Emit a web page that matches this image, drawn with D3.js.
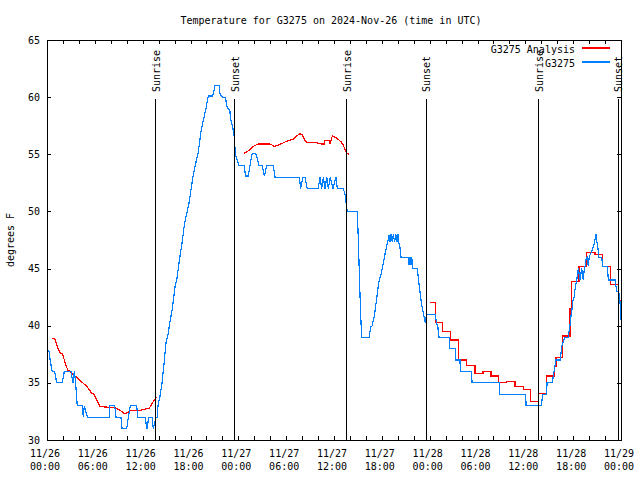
<!DOCTYPE html>
<html><head><meta charset="utf-8">
<script src="https://cdn.jsdelivr.net/npm/d3@7"></script>
<style>
html,body{margin:0;padding:0;background:#fff;}
svg text{font-family:"DejaVu Sans Mono",monospace;font-size:10px;fill:#000;}
</style></head>
<body><svg id="c" width="640" height="480"></svg>
<script>
// hours since 2024-11-26 00:00 UTC
const titleText = "Temperature for G3275 on 2024-Nov-26 (time in UTC)";
const yLabel = "degrees F";
const seriesNames = ["G3275 Analysis", "G3275"];
const xTickHours = [0,6,12,18,24,30,36,42,48,54,60,66,72];
const xTickDates = ["11/26","11/26","11/26","11/26","11/27","11/27","11/27","11/27","11/28","11/28","11/28","11/28","11/29"];
const xTickTimes = ["00:00","06:00","12:00","18:00","00:00","06:00","12:00","18:00","00:00","06:00","12:00","18:00","00:00"];
const yTicks = [30,35,40,45,50,55,60,65];
const sunHours = [13.58, 23.49, 37.54, 47.5, 61.64, 71.58];
const sunLabels = ["Sunrise","Sunset","Sunrise","Sunset","Sunrise","Sunset"];

// G3275 observations [hour, degF]
const obs = [
[0.0,38.0],[0.29,37.7],[0.41,36.9],[0.66,36.0],[0.92,36.0],[1.09,35.7],[1.17,35.0],[1.92,35.0],[2.17,36.0],[3.01,36.0],
[3.17,35.3],[3.26,35.0],[3.42,36.0],[3.60,35.0],[3.68,34.0],[3.80,33.0],[4.43,33.0],[4.55,32.0],[4.68,33.0],[5.06,32.0],
[7.81,32.0],[7.87,33.0],[8.49,33.0],[8.66,32.0],[9.28,32.0],[9.41,31.0],[10.0,31.0],[10.2,32.0],[10.45,33.0],[11.25,33.0],
[11.41,32.0],[12.29,32.0],[12.54,31.0],[12.76,32.0],[13.17,32.0],[13.33,31.0],[13.67,32.0],[13.84,32.0],[13.92,33.0],[14.17,33.8],
[14.43,35.0],[14.68,36.7],[14.93,38.5],[15.22,39.4],[15.39,40.2],[15.72,41.5],[16.06,43.4],[16.27,44.0],[16.56,45.5],[16.77,46.5],
[16.97,47.4],[17.22,48.8],[17.52,49.8],[17.81,50.7],[18.06,51.9],[18.35,53.2],[18.65,54.2],[18.98,55.2],[19.32,57.0],[19.61,58.0],
[19.91,58.9],[20.23,60.1],[20.79,60.1],[20.86,60.3],[21.07,61.0],[21.58,61.0],[21.70,60.3],[21.99,60.0],[22.37,60.0],[22.62,59.0],
[22.92,58.9],[23.04,58.1],[23.29,57.4],[23.50,56.5],[23.58,55.5],[23.71,54.8],[24.08,54.0],[24.71,54.0],[24.92,53.1],[25.25,53.1],
[25.55,54.4],[25.75,55.1],[26.18,55.1],[26.38,54.6],[26.59,54.0],[27.01,54.0],[27.26,53.1],[27.56,54.0],[28.39,54.0],[28.60,53.0],
[31.65,53.0],[31.82,52.0],[32.08,53.0],[32.36,53.0],[32.65,52.0],[34.03,52.0],[34.24,53.0],[34.46,52.0],[34.66,53.0],[34.87,52.0],
[35.09,53.0],[35.29,52.0],[35.54,53.0],[35.88,52.0],[36.25,53.0],[36.42,52.0],[37.17,52.0],[37.29,51.7],[37.47,51.2],[37.54,50.6],
[37.67,50.0],[38.92,50.0],[39.01,48.4],[39.14,45.5],[39.26,42.7],[39.39,40.2],[39.48,39.0],[40.43,39.0],[40.52,39.5],[40.64,39.9],
[40.80,40.0],[40.93,40.5],[41.06,40.8],[41.18,41.5],[41.36,42.4],[41.52,43.3],[41.68,44.0],[41.86,44.4],[42.06,45.0],[42.27,45.8],
[42.49,46.6],[42.69,47.2],[42.90,47.9],[43.03,47.3],[43.15,48.0],[43.31,47.3],[43.44,48.0],[43.61,47.3],[43.74,48.0],[43.90,47.3],
[44.03,48.0],[44.15,47.2],[44.28,46.8],[44.41,46.0],[45.32,46.0],[45.41,45.3],[45.53,46.0],[45.66,45.3],[45.75,46.0],[45.87,45.0],
[46.45,45.0],[46.58,44.2],[46.70,43.4],[46.83,42.7],[47.00,41.8],[47.20,41.1],[47.42,40.3],[47.48,40.8],[47.54,40.2],[47.63,41.0],
[48.71,41.0],[48.88,40.1],[49.01,40.1],[49.08,39.5],[49.17,39.0],[50.46,39.0],[50.49,38.0],[51.22,38.0],[51.25,37.0],[51.81,37.0],
[51.84,36.0],[53.27,36.0],[53.31,35.0],[56.74,35.0],[56.79,34.0],[60.05,34.0],[60.09,33.0],[61.97,33.0],[62.09,33.5],[62.18,34.0],
[62.68,34.0],[62.72,35.0],[63.38,35.0],[63.51,35.6],[63.60,36.0],[63.85,37.0],[64.35,37.0],[64.44,37.4],[64.56,38.2],[64.64,38.4],
[64.98,39.0],[65.36,39.0],[65.60,40.0],[65.69,40.7],[65.82,41.2],[65.95,42.1],[66.11,42.5],[66.27,43.4],[66.45,44.0],[66.65,45.0],
[66.86,44.0],[67.07,45.0],[67.27,44.0],[67.36,44.7],[67.49,45.2],[67.61,45.8],[67.78,46.0],[67.90,45.2],[68.03,46.1],[68.20,46.3],
[68.53,46.9],[68.74,47.5],[68.86,48.0],[68.95,47.5],[69.08,46.9],[69.24,46.0],[69.58,46.0],[69.71,45.2],[70.28,45.2],[70.41,44.0],
[71.25,44.0],[71.34,43.6],[71.46,43.0],[71.71,43.0],[71.87,42.1],[72.0,40.5]
];

// G3275 Analysis, three runs [hour, degF]
const analysis1 = [
[0.63,38.9],[0.97,38.85],[1.22,38.3],[1.51,37.8],[1.72,37.6],[1.97,37.5],[2.17,37.0],[2.38,36.5],[2.63,36.1],[2.89,36.0],
[3.17,35.8],[3.42,35.6],[3.73,35.5],[4.05,35.25],[4.48,35.0],[4.98,34.7],[5.61,34.1],[5.90,34.0],[6.23,33.5],[6.69,32.9],
[7.15,32.9],[8.66,32.8],[9.16,32.6],[9.70,32.3],[10.12,32.4],[10.41,32.6],[11.67,32.6],[12.83,32.8],[13.33,33.35],[13.64,33.7],[13.84,33.7]
];
const analysis2 = [
[24.71,55.1],[25.05,55.2],[25.46,55.4],[25.88,55.7],[26.50,55.9],[27.97,55.9],[28.51,55.7],[29.01,55.8],[29.64,56.0],[30.27,56.2],
[30.90,56.3],[31.32,56.6],[31.74,56.8],[32.02,56.7],[32.36,56.2],[32.70,56.0],[33.91,56.0],[34.46,55.9],[34.75,55.9],[34.87,56.2],
[35.41,56.2],[35.50,55.9],[35.79,56.6],[36.13,56.5],[36.54,56.3],[36.88,56.1],[37.17,55.8],[37.38,55.4],[37.59,55.1],[37.88,55.0]
];
const analysis3 = [
[48.04,42.0],[48.73,40.3],[49.59,39.5],[50.59,38.75],[51.64,37.0],[52.65,36.5],[53.69,35.8],[54.69,36.0],[55.70,35.6],[56.61,35.0],
[57.67,35.1],[58.71,34.7],[59.75,34.4],[60.68,33.35],[61.65,34.1],[62.68,35.6],[63.64,36.4],[63.85,37.2],[64.64,39.1],[65.61,41.5],
[65.82,43.9],[66.73,45.2],[67.70,46.4],[68.74,46.2],[69.71,45.2],[70.71,43.6],[71.66,42.2],[72.0,42.2]
];

const L=47, R=621, T=40, B=440;
const svg = d3.select("#c");
const x = d3.scaleLinear().domain([0,72]).range([L,R]);
const y = d3.scaleLinear().domain([30,65]).range([B,T]);
const red = "#ff0000", blue = "#0080ff";

// title
svg.append("text").attr("x",331).attr("y",24).attr("text-anchor","middle").text(titleText);
// y label
svg.append("text").attr("transform","translate(14,240) rotate(-90)").attr("text-anchor","middle").text(yLabel);

// ticks via axes
const minorX = d3.range(0,73,2);
const axB = d3.axisBottom(x).tickValues(minorX).tickSize(-4).tickFormat("");
const axT = d3.axisTop(x).tickValues(minorX).tickSize(-4).tickFormat("");
const axL = d3.axisLeft(y).tickValues(yTicks).tickSize(-4).tickFormat("");
const axR = d3.axisRight(y).tickValues(yTicks).tickSize(-4).tickFormat("");
[[axB,`translate(0,${B})`],[axT,`translate(0,${T})`],[axL,`translate(${L},0)`],[axR,`translate(${R},0)`]].forEach(([a,t])=>{
  const g = svg.append("g").attr("transform",t).call(a);
  g.select(".domain").remove();
  g.selectAll("line").attr("stroke","#000").attr("shape-rendering","crispEdges");
});

// x tick labels
const xl = svg.append("g");
xTickHours.forEach((h,i)=>{
  const t = xl.append("text").attr("text-anchor","middle");
  t.append("tspan").attr("x",x(h)-2).attr("y",457).text(xTickDates[i]);
  t.append("tspan").attr("x",x(h)-2).attr("y",470).text(xTickTimes[i]);
});
// y tick labels
yTicks.forEach(v=>{
  svg.append("text").attr("x",40).attr("y",y(v)+3.5).attr("text-anchor","end").text(v);
});

const clip = svg.append("clipPath").attr("id","pc").append("rect").attr("x",L).attr("y",T).attr("width",R-L).attr("height",B-T);
const plot = svg.append("g").attr("clip-path","url(#pc)");
const lineLin = d3.line().x(d=>x(d[0])).y(d=>y(d[1]));
const lineStep = d3.line().x(d=>x(d[0])).y(d=>y(d[1])).curve(d3.curveStepAfter);

[[analysis1,lineLin],[analysis2,lineLin],[analysis3,lineStep]].forEach(([d,l])=>{
  plot.append("path").attr("d",l(d)).attr("fill","none").attr("stroke",red).attr("stroke-width",1.2).attr("shape-rendering","crispEdges");
});
plot.append("path").attr("d",lineLin(obs)).attr("fill","none").attr("stroke",blue).attr("stroke-width",1.2).attr("shape-rendering","crispEdges");

// sun lines
sunHours.forEach((h,i)=>{
  svg.append("line").attr("x1",Math.round(x(h))+0.5).attr("x2",Math.round(x(h))+0.5).attr("y1",99).attr("y2",B)
    .attr("stroke","#000").attr("stroke-width",1).attr("shape-rendering","crispEdges");
  svg.append("text").attr("transform",`translate(${x(h)+1},92) rotate(-90)`).attr("text-anchor","start")
    .attr("dominant-baseline","central").text(sunLabels[i]);
});

// frame
svg.append("rect").attr("x",L+0.5).attr("y",T+0.5).attr("width",R-L).attr("height",B-T)
  .attr("fill","none").attr("stroke","#000").attr("shape-rendering","crispEdges");

// legend
const lg = [[seriesNames[0],red,49],[seriesNames[1],blue,63]];
lg.forEach(([n,c,yy])=>{
  svg.append("text").attr("x",575).attr("y",yy+3.5).attr("text-anchor","end").text(n);
  svg.append("line").attr("x1",582).attr("x2",610).attr("y1",yy-1).attr("y2",yy-1).attr("stroke",c).attr("stroke-width",1.2).attr("shape-rendering","crispEdges");
});
</script></body></html>
